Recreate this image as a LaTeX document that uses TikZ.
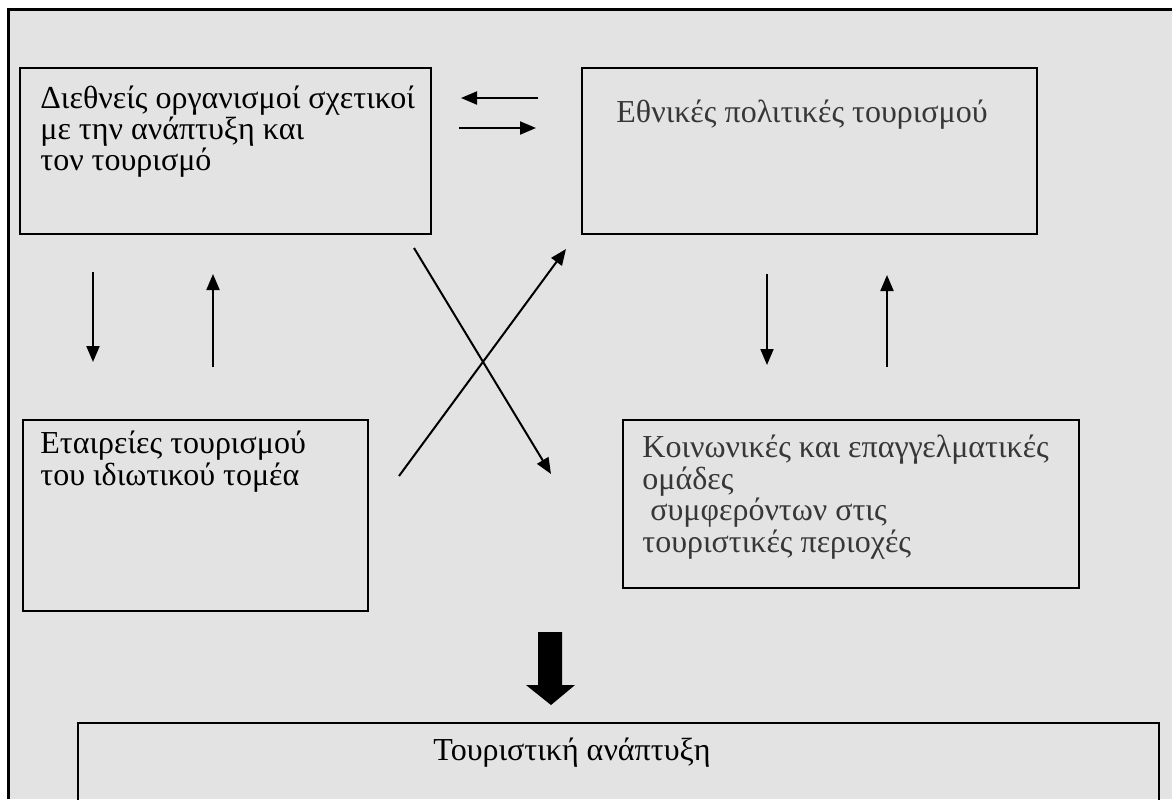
\documentclass[tikz,border=0pt]{standalone}
\usepackage{fontspec}
\setmainfont{Liberation Serif}
\usetikzlibrary{arrows.meta}
\definecolor{bg}{RGB}{227,227,227}
\definecolor{softtext}{RGB}{55,55,55}
\begin{document}
\begin{tikzpicture}[x=0.5pt,y=-0.5pt,
  box/.style={draw=black,line width=1pt,rectangle,inner sep=0pt,anchor=north west},
  txt/.style={anchor=north west,inner sep=0pt,align=left,font=\fontsize{16pt}{15.5pt}\selectfont},
  arr/.style={line width=1pt,-{Triangle[length=8pt,width=6.5pt]}}]
\useasboundingbox (0,0) rectangle (1172,799);
\fill[bg] (7,8) rectangle (1172,799);
\draw[line width=1.5pt] (8,799) -- (8,9) -- (1172,9);
% boxes
\node[box,minimum width=205.5pt,minimum height=83pt] (b1) at (19,67) {};
\node[box,minimum width=227.5pt,minimum height=83pt] (b2) at (581,67) {};
\node[box,minimum width=172.5pt,minimum height=95.5pt] (b3) at (22,419) {};
\node[box,minimum width=228pt,minimum height=84pt] (b4) at (622,419) {};
\node[box,minimum width=540.5pt,minimum height=70pt] (b5) at (77,722) {};
% texts
\node[txt] (t1) at (40,86) {Διεθνείς οργανισμοί σχετικοί\\με την ανάπτυξη και\\τον τουρισμό};
\node[txt,text=softtext] (t2) at (616,100) {Εθνικές πολιτικές τουρισμού};
\node[txt,font=\fontsize{16pt}{16pt}\selectfont] (t3) at (40,431) {Εταιρείες τουρισμού\\του ιδιωτικού τομέα};
\node[txt,text=softtext,font=\fontsize{16pt}{14.5pt}\selectfont] (t4) at (642,435) {Κοινωνικές και επαγγελματικές\\ομάδες\\\ συμφερόντων στις\\τουριστικές περιοχές};
\node[txt] (t5) at (433,738) {Τουριστική ανάπτυξη};
% arrow end points
\coordinate (h1s) at (538,98);  \coordinate (h1e) at (461,98);
\coordinate (h2s) at (459,128); \coordinate (h2e) at (536,128);
\coordinate (v1s) at (93,272);  \coordinate (v1e) at (93,362);
\coordinate (v2s) at (213,367); \coordinate (v2e) at (213,274);
\coordinate (v3s) at (767,274); \coordinate (v3e) at (767,365);
\coordinate (v4s) at (887,367); \coordinate (v4e) at (887,275);
\coordinate (x1s) at (414,248); \coordinate (x1e) at (551,474);
\coordinate (x2s) at (399,476); \coordinate (x2e) at (566,249);
\draw[arr] (h1s) -- (h1e);
\draw[arr] (h2s) -- (h2e);
\draw[arr] (v1s) -- (v1e);
\draw[arr] (v2s) -- (v2e);
\draw[arr] (v3s) -- (v3e);
\draw[arr] (v4s) -- (v4e);
\draw[arr] (x1s) -- (x1e);
\draw[arr] (x2s) -- (x2e);
% thick block arrow
\fill[black] (538,632) -- (562,632) -- (562,685) -- (575,685) -- (551,705) -- (526,685) -- (538,685) -- cycle;
\end{tikzpicture}
\end{document}
